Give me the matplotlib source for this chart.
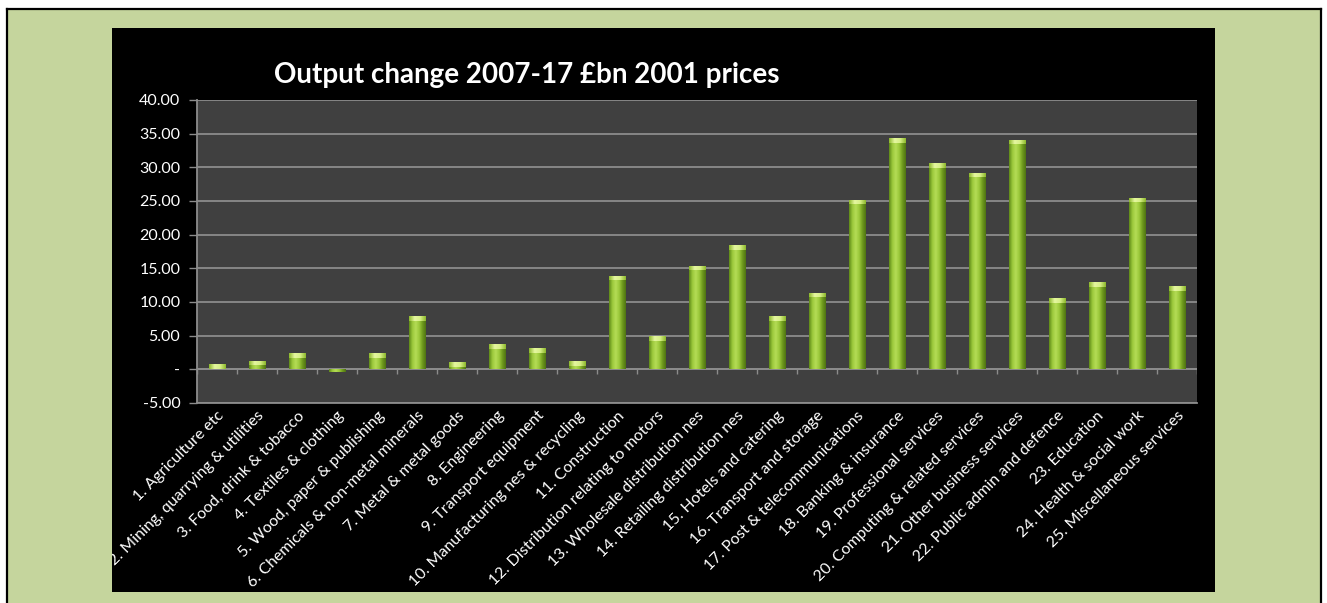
import numpy as np
import matplotlib.pyplot as plt
from matplotlib.colors import LinearSegmentedColormap
from matplotlib.patches import Rectangle
from matplotlib.lines import Line2D
from matplotlib.transforms import Bbox, TransformedBbox

plt.rcParams['font.family'] = ['Lato', 'DejaVu Sans']

sectors = [
    "1. Agriculture etc",
    "2. Mining, quarrying & utilities",
    "3. Food, drink & tobacco",
    "4. Textiles & clothing",
    "5. Wood, paper & publishing",
    "6. Chemicals & non-metal minerals",
    "7. Metal & metal goods",
    "8. Engineering",
    "9. Transport equipment",
    "10. Manufacturing nes & recycling",
    "11. Construction",
    "12. Distribution relating to motors",
    "13. Wholesale distribution nes",
    "14. Retailing distribution nes",
    "15. Hotels and catering",
    "16. Transport and storage",
    "17. Post & telecommunications",
    "18. Banking & insurance",
    "19. Professional services",
    "20. Computing & related services",
    "21. Other business services",
    "22. Public admin and defence",
    "23. Education",
    "24. Health & social work",
    "25. Miscellaneous services",
]
output_change = [0.8, 1.3, 2.4, -0.4, 2.4, 7.9, 1.1, 3.7, 3.1, 1.2,
                 13.9, 4.9, 15.4, 18.4, 7.9, 11.4, 25.2, 34.3, 30.6, 29.2,
                 34.1, 10.6, 13.0, 25.5, 12.4]
y_ticks = [-5, 0, 5, 10, 15, 20, 25, 30, 35, 40]

fig = plt.figure(figsize=(13.27, 6.03), dpi=100)
fig.patch.set_facecolor('white')

# light green page with a black frame
fig.patches.append(Rectangle((6/1327, 0), 1315/1327, 594/603, transform=fig.transFigure,
                             facecolor='#c5d59d', edgecolor='none', zorder=-3))
for xs, ys in [([6.5/1327, 6.5/1327], [0, 594/603]),
               ([6.5/1327, 1320.5/1327], [594/603, 594/603]),
               ([1320.5/1327, 1320.5/1327], [0, 594/603])]:
    fig.lines.append(Line2D(xs, ys, transform=fig.transFigure, color='black', lw=1.6))

# black chart panel
panel_box = Bbox.from_bounds(112/1327, 11/603, 1103/1327, 564/603)
fig.patches.append(Rectangle(panel_box.p0, panel_box.width, panel_box.height,
                             transform=fig.transFigure, facecolor='black',
                             edgecolor='none', zorder=-2))

ax = fig.add_axes([197/1327, 200/603, 1000/1327, 303/603])
ax.set_facecolor('#404040')

x = np.arange(len(sectors))
bars = ax.bar(x, output_change, width=0.42, color='#8fbc30', edgecolor='none', zorder=3)

body = LinearSegmentedColormap.from_list('body', ['#5f8a18', '#9cc93c', '#b4dc55', '#9cc93c', '#6f9a1e', '#4f7412'])
cap = LinearSegmentedColormap.from_list('cap', ['#8db82c', '#e6f7a0', '#d6ef86', '#8db82c'])
grad = np.linspace(0, 1, 64).reshape(1, -1)
for b in bars:
    bx, bw, bh = b.get_x(), b.get_width(), b.get_height()
    lo, hi = min(0, bh), max(0, bh)
    im = ax.imshow(grad, cmap=body, extent=[bx, bx + bw, lo, hi], aspect='auto', zorder=4)
    im.set_clip_path(b)
    if bh > 0:
        top = max(lo, hi - 0.7)
        ci = ax.imshow(grad, cmap=cap, extent=[bx, bx + bw, top, hi], aspect='auto', zorder=5)
        ci.set_clip_path(b)

ax.set_xlim(-0.5, len(sectors) - 0.5)
ax.set_ylim(-5, 40)

ax.set_yticks(y_ticks)
ax.set_yticklabels(['-' if v == 0 else f'{v:.2f}' for v in y_ticks])
ax.yaxis.grid(True, color='#8c8c8c', lw=1.3, zorder=1)
ax.set_axisbelow(True)

ax.set_xticks(x)
ax.set_xticklabels(sectors, rotation=45, ha='right', rotation_mode='anchor')
ax.tick_params(axis='x', length=0, pad=4, colors='white', labelsize=11.5)
ax.tick_params(axis='y', length=6, width=1, color='#8c8c8c', colors='white', labelsize=11.5, pad=6)
for lbl in ax.get_yticklabels():
    lbl.set_color('white')

# labels that run past the panel are cut at its edge
clip = TransformedBbox(panel_box, fig.transFigure)
for lbl in ax.get_xticklabels():
    lbl.set_clip_box(clip)
    lbl.set_clip_on(True)

for side in ['top', 'right']:
    ax.spines[side].set_visible(False)
for side in ['left', 'bottom']:
    ax.spines[side].set_color('#8c8c8c')
    ax.spines[side].set_linewidth(1.3)

# category axis crossing at zero with boundary ticks
ax.axhline(0, color='#8c8c8c', lw=1.3, zorder=2)
ax.vlines(np.arange(len(sectors) + 1) - 0.5, -0.75, 0, color='#8c8c8c', lw=1, zorder=2)

fig.text(527/1327, 1 - 75/603, 'Output change 2007-17 £bn 2001 prices', color='white',
         fontsize=20, fontweight='bold', ha='center', va='center')

fig.savefig('out.png', dpi=100, facecolor=fig.get_facecolor())
